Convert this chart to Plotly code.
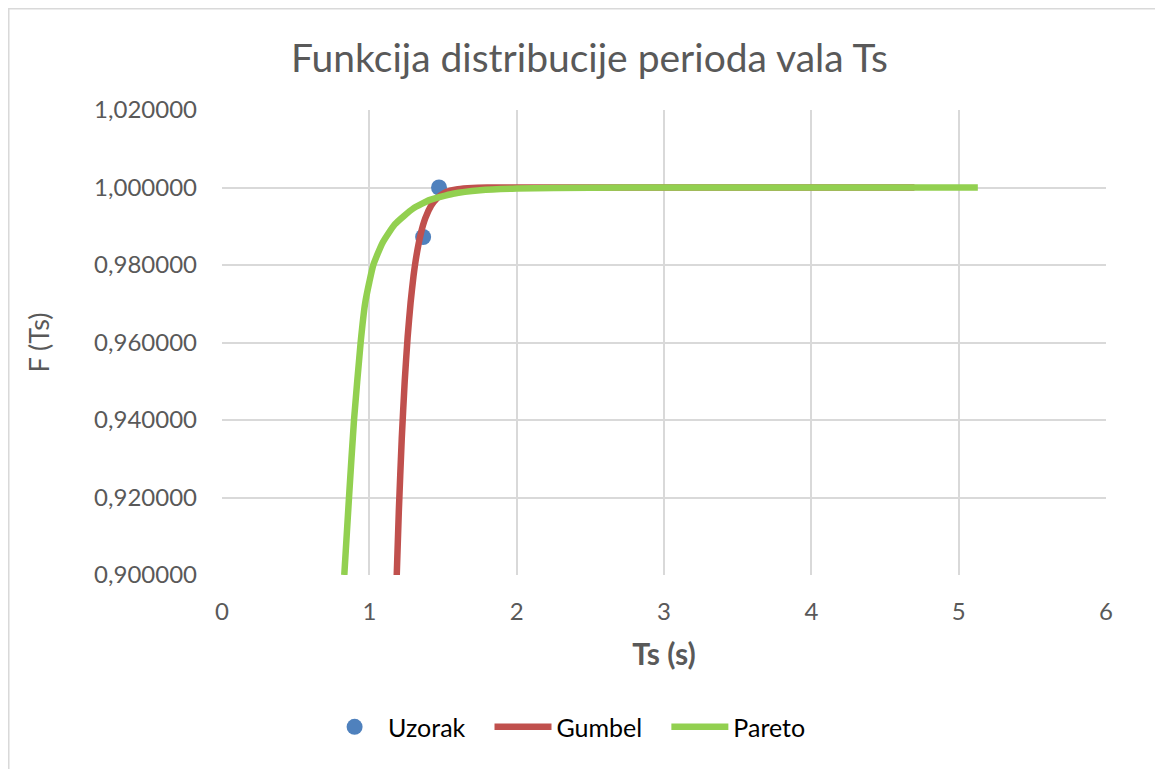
import plotly.graph_objects as go

# Sample points (Uzorak)
uzorak_x = [1.365, 1.473]
uzorak_y = [0.98722, 1.000000]

# Gumbel curve
gumbel_x = [1.186, 1.20, 1.22, 1.24, 1.26, 1.28, 1.30, 1.32, 1.35, 1.38, 1.42, 1.46, 1.50,
            1.55, 1.60, 1.70, 1.80, 1.90, 2.00, 2.50, 3.00, 3.50, 4.00, 4.50, 4.70]
gumbel_y = [0.9000, 0.9163, 0.9352, 0.9499, 0.9614, 0.9703, 0.97718, 0.98247, 0.98820, 0.99208,
            0.99534, 0.99726, 0.99839, 0.99917, 0.99958, 0.99989, 0.99997, 0.99999, 1.0,
            1.0, 1.0, 1.0, 1.0, 1.0, 1.0]

# Pareto curve
pareto_x = [0.830, 0.862, 0.896, 0.941, 0.971, 1.000, 1.027, 1.090, 1.174, 1.299, 1.412, 1.568,
            1.752, 2.00, 2.50, 3.00, 4.00, 5.13]
pareto_y = [0.9000, 0.9200, 0.9400, 0.9600, 0.9700, 0.9756, 0.9800, 0.98574, 0.99053, 0.9946,
            0.9968, 0.9984, 0.9993, 0.99975, 0.99996, 0.99999, 1.0, 1.0]

y_ticks = [0.90, 0.92, 0.94, 0.96, 0.98, 1.00, 1.02]
y_tick_labels = ["0,900000", "0,920000", "0,940000", "0,960000", "0,980000", "1,000000", "1,020000"]
x_ticks = [0, 1, 2, 3, 4, 5, 6]

FONT = "Lato, 'Open Sans', sans-serif"
GRAY = "#595959"
PAD = "\u00a0\u00a0\u00a0"

fig = go.Figure()
fig.add_trace(go.Scatter(x=uzorak_x, y=uzorak_y, mode="markers", name="Uzorak" + PAD,
                         marker=dict(color="#4F81BD", size=16), cliponaxis=False))
fig.add_trace(go.Scatter(x=gumbel_x, y=gumbel_y, mode="lines", name="Gumbel" + PAD,
                         line=dict(color="#C0504D", width=6.5, shape="spline", smoothing=0.5)))
fig.add_trace(go.Scatter(x=pareto_x, y=pareto_y, mode="lines", name="Pareto" + PAD,
                         line=dict(color="#92D050", width=6.5, shape="spline", smoothing=0.5)))

fig.update_layout(
    width=1163, height=769,
    margin=dict(l=214, r=65, t=102, b=202),
    paper_bgcolor="white", plot_bgcolor="white",
    font=dict(family=FONT, color=GRAY, size=24),
    title=dict(text="Funkcija distribucije perioda vala Ts", x=0.5, xanchor="center",
               xref="container", y=0.935, yanchor="middle", yref="container",
               font=dict(size=39, color=GRAY, family=FONT)),
    xaxis=dict(range=[0, 6], tickvals=x_ticks, showgrid=True, gridcolor="#D9D9D9", gridwidth=1.5,
               zeroline=False, showline=False, ticks="", tickfont=dict(size=24, color=GRAY),
               ticklabelstandoff=20,
               title=dict(text="<b>Ts (s)</b>", font=dict(size=30, color=GRAY), standoff=19)),
    yaxis=dict(range=[0.90, 1.02], tickvals=y_ticks, ticktext=y_tick_labels, showgrid=True,
               gridcolor="#D9D9D9", gridwidth=1.5, zeroline=False, showline=False, ticks="",
               tickfont=dict(size=24, color=GRAY), ticklabelstandoff=24,
               title=dict(text="F (Ts)", font=dict(size=27, color=GRAY), standoff=36)),
    legend=dict(orientation="h", x=0.400, xanchor="center", y=-0.327, yanchor="middle",
                font=dict(size=25, color="#000000"), itemwidth=57, tracegroupgap=0),
    showlegend=True,
    shapes=[dict(type="rect", xref="paper", yref="paper", x0=-0.2412, x1=1.1, y0=-0.5, y1=1.2178,
                 line=dict(color="#D9D9D9", width=1.5), fillcolor="rgba(0,0,0,0)", layer="below")],
)

fig.write_html("out.html")
